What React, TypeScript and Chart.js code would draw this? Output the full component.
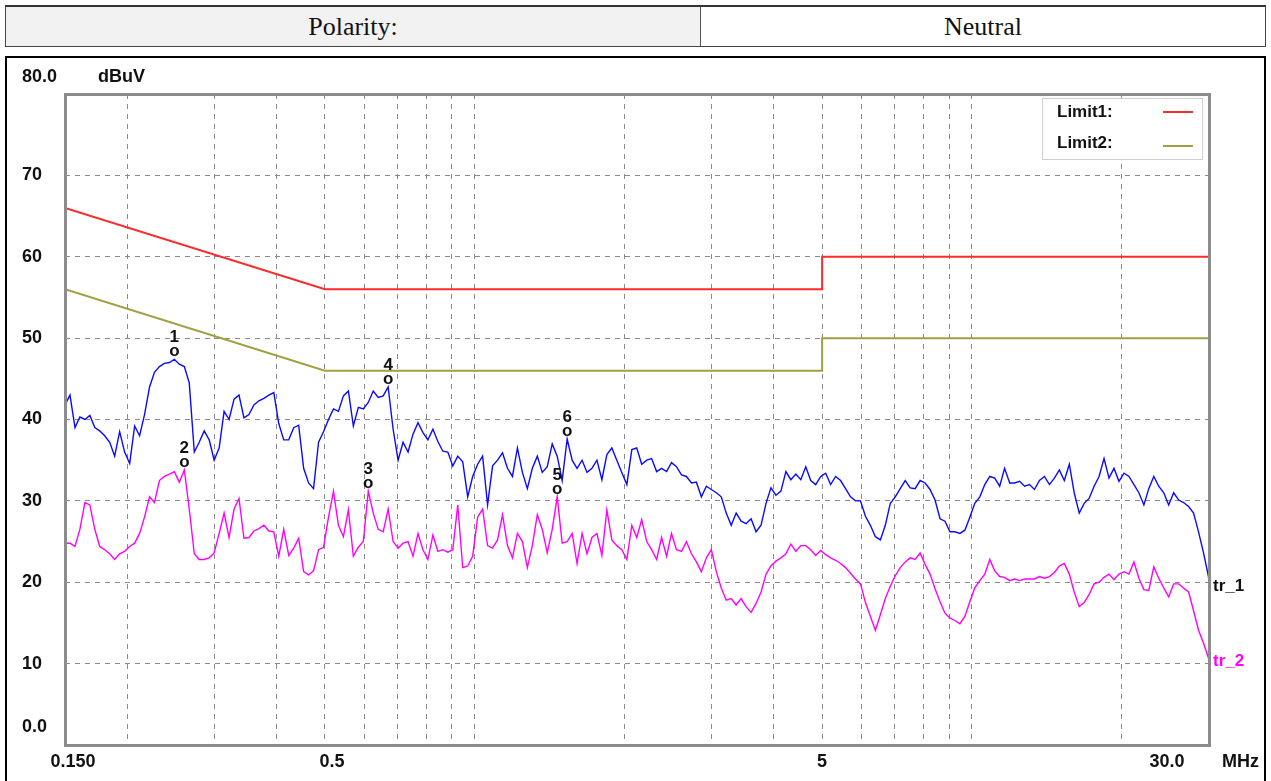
import React, { useEffect, useRef } from 'react';
import { Chart, registerables } from 'chart.js';

Chart.register(...registerables);

// Sweep frequencies (MHz), log spaced
const FREQ = [
  0.1500, 0.1535, 0.1571, 0.1607, 0.1645, 0.1683, 0.1722, 0.1762, 0.1803, 0.1845,
  0.1888, 0.1932, 0.1977, 0.2024, 0.2071, 0.2119, 0.2168, 0.2219, 0.2270, 0.2323,
  0.2377, 0.2433, 0.2489, 0.2547, 0.2607, 0.2667, 0.2730, 0.2793, 0.2858, 0.2925,
  0.2993, 0.3063, 0.3134, 0.3207, 0.3282, 0.3358, 0.3436, 0.3516, 0.3598, 0.3682,
  0.3768, 0.3856, 0.3945, 0.4037, 0.4131, 0.4228, 0.4326, 0.4427, 0.4530, 0.4635,
  0.4743, 0.4854, 0.4967, 0.5083, 0.5201, 0.5322, 0.5446, 0.5573, 0.5703, 0.5836,
  0.5972, 0.6111, 0.6253, 0.6399, 0.6548, 0.6700, 0.6856, 0.7016, 0.7179, 0.7347,
  0.7518, 0.7693, 0.7872, 0.8055, 0.8243, 0.8435, 0.8632, 0.8833, 0.9038, 0.9249,
  0.9464, 0.9685, 0.9910, 1.0141, 1.0377, 1.0619, 1.0867, 1.1120, 1.1379, 1.1644,
  1.1915, 1.2192, 1.2476, 1.2767, 1.3064, 1.3369, 1.3680, 1.3998, 1.4325, 1.4659,
  1.500, 1.535, 1.571, 1.607, 1.645, 1.683, 1.722, 1.762, 1.803, 1.845,
  1.888, 1.932, 1.977, 2.024, 2.071, 2.119, 2.168, 2.219, 2.270, 2.323,
  2.377, 2.433, 2.489, 2.547, 2.607, 2.667, 2.730, 2.793, 2.858, 2.925,
  2.993, 3.063, 3.134, 3.207, 3.282, 3.358, 3.436, 3.516, 3.598, 3.682,
  3.768, 3.856, 3.945, 4.037, 4.131, 4.228, 4.326, 4.427, 4.530, 4.635,
  4.743, 4.854, 4.967, 5.083, 5.201, 5.322, 5.446, 5.573, 5.703, 5.836,
  5.972, 6.111, 6.253, 6.399, 6.548, 6.700, 6.856, 7.016, 7.179, 7.347,
  7.518, 7.693, 7.872, 8.055, 8.243, 8.435, 8.632, 8.833, 9.038, 9.249,
  9.464, 9.685, 9.910, 10.14, 10.38, 10.62, 10.87, 11.12, 11.38, 11.64,
  11.92, 12.19, 12.48, 12.77, 13.06, 13.37, 13.68, 14.00, 14.33, 14.66,
  15.00, 15.35, 15.71, 16.07, 16.45, 16.83, 17.22, 17.62, 18.03, 18.45,
  18.88, 19.32, 19.77, 20.24, 20.71, 21.19, 21.68, 22.19, 22.70, 23.23,
  23.77, 24.33, 24.89, 25.47, 26.07, 26.67, 27.30, 27.93, 28.58, 29.25,
  29.93, 30.0,
];

// tr_1 (blue) level, dBuV
const TR1 = [
  41.8, 43, 39, 40.3, 40, 40.5, 39, 38.6, 38, 37.2,
  35.5, 38.5, 36, 34.6, 39.2, 38, 40.6, 44, 45.8, 46.5,
  46.9, 47, 47.4, 46.8, 46.5, 44.5, 36, 37.2, 38.6, 37.5,
  35, 36.5, 41, 40, 42.5, 43, 40.2, 40.6, 41.8, 42.3,
  42.6, 43, 43.3, 39.5, 37.5, 37.5, 39, 39.3, 34, 32.2,
  31.5, 37.2, 38.5, 40, 41.3, 41, 42.9, 43.5, 39.2, 41.5,
  41.3, 42.1, 43.5, 42.7, 42.9, 44, 38.8, 35, 37.2, 36,
  38.2, 39.6, 38.4, 37.5, 38.8, 37.3, 36.1, 36, 34.3, 35.5,
  34.8, 30.5, 33, 34.5, 35.5, 29.5, 34.3, 35, 35.9, 34,
  33, 36.5, 33.5, 31.5, 34, 35.5, 33.5, 34.2, 37, 35.5,
  32.5, 37.6, 35, 34, 35, 33.5, 34, 35, 32.6, 35.7,
  36.5, 35, 33.5, 32, 36.3, 36.5, 34.5, 35, 35.2, 33.6,
  34, 33.6, 34.7, 34.2, 33.2, 33, 32.2, 32.3, 30.5, 31.8,
  31.4, 31, 30.5, 28.5, 27, 28.5, 27.5, 27.2, 27.8, 26.2,
  27, 29.7, 31.6, 30.7, 31.2, 33.6, 32.6, 33.3, 32.6, 34.2,
  32.5, 32, 33, 33.4, 32, 33, 32.5, 31.5, 30.5, 30,
  30, 28.1, 27, 25.6, 25.2, 27, 29.7, 30.5, 31.5, 32.5,
  31.6, 31.5, 32.5, 32.2, 31.4, 30.1, 27.8, 27.5, 26.2, 26.2,
  26, 26.4, 28, 29.7, 30.5, 32, 33, 32.8, 31.8, 34,
  32.2, 32.2, 32.4, 31.8, 32, 31.4, 32.5, 33, 32, 32.8,
  33.8, 32.5, 34.5, 31, 28.5, 29.7, 30.3, 31.8, 33, 35.2,
  32.8, 34, 32.4, 33.4, 33, 32, 31, 29.5, 31.5, 33,
  31.8, 31, 29.5, 31, 30.1, 29.8, 29.3, 28.5, 26.2, 23.6,
  20.7, 19.5,
];

// tr_2 (magenta) level, dBuV
const TR2 = [
  24.8, 24.8, 24.4, 26.5, 29.8, 29.5, 26.5, 24.4, 24, 23.5,
  22.8, 23.5, 23.8, 24.4, 24.8, 26, 28, 30.5, 29.8, 32.5,
  33, 33.3, 33.6, 32.3, 33.8, 29, 23.5, 22.8, 22.8, 23,
  23.6, 26, 28.5, 25.5, 29, 30.3, 25.4, 25.5, 26.3, 26.6,
  27, 26.3, 26.2, 23.2, 26.5, 23.3, 24.2, 25.4, 21.3, 20.9,
  21.4, 24, 24.3, 28, 31.2, 27, 25.6, 28.9, 23.2, 24.3,
  25, 31.2, 28.5, 26.5, 26.2, 29, 25, 24.2, 24.8, 25,
  23.2, 26, 24, 22.8, 25.8, 23.8, 24, 23.7, 24, 29.5,
  21.8, 22, 23.2, 28, 29, 24.5, 24.2, 25.2, 28.3, 24.5,
  23, 26, 25, 21.8, 24.5, 28.3, 26.5, 23.6, 26.5, 30.5,
  24.8, 25, 26, 22.3, 26, 23.5, 25.5, 26, 23.3, 28.9,
  25.2, 24.5, 24, 22.8, 27, 25.5, 27.7, 25, 24, 22.8,
  25.5, 23.2, 26, 24, 23.8, 25, 23.5, 22.5, 21.3, 23,
  24, 21.3, 19.3, 17.8, 18, 17.2, 18, 17, 16.3, 17.4,
  18.8, 21, 22, 22.6, 23, 23.5, 24.7, 23.8, 24.5, 24.5,
  24, 23.3, 23.9, 23.4, 23, 22.7, 22.3, 21.8, 21.1, 20.4,
  19.8, 17.5, 15.8, 14.1, 16, 18, 19.5, 20.8, 21.8, 22.5,
  23, 22.8, 23.6, 22.2, 21, 19.2, 17.6, 16.2, 15.6, 15.3,
  14.9, 15.8, 17.6, 19.3, 20.2, 21, 22.8, 21.4, 20.7, 20.6,
  20.2, 20.4, 20.2, 20.4, 20.4, 20.4, 20.7, 20.5, 20.7, 21.2,
  22, 22.3, 21, 18.8, 17, 17.5, 18.5, 19.8, 20, 20.6,
  21, 20.3, 21, 21.3, 21, 22.5, 20.5, 19.1, 19, 21.9,
  20.5, 19.3, 18.2, 19.8, 19.8, 19.3, 18.8, 16.5, 14.1, 12.5,
  10.7, 10.3,
];

// Limit lines
const LIMIT_FREQ = [0.15, 0.5, 5, 5, 30];
const LIMIT1 = [66, 56, 56, 60, 60];
const LIMIT2 = [56, 46, 46, 50, 50];

// Peak markers
const MARKER_NO = ['1', '2', '3', '4', '5', '6'];
const MARKER_FREQ = [0.2489, 0.2607, 0.6111, 0.6700, 1.4659, 1.535];
const MARKER_LEVEL = [47.4, 33.8, 31.2, 44.0, 30.5, 37.6];

// Axis ticks / labels
const GRID_FREQ = [0.2, 0.3, 0.4, 0.5, 0.6, 0.7, 0.8, 0.9, 1, 2, 3, 4, 5, 6, 7, 8, 9, 10, 20];
const X_LABEL_VALUES = [0.15, 0.5, 5, 30];
const X_LABEL_TEXTS = ['0.150', '0.5', '5', '30.0'];
const Y_LABEL_VALUES = [80, 70, 60, 50, 40, 30, 20, 10, 0];
const Y_LABEL_TEXTS = ['80.0', '70', '60', '50', '40', '30', '20', '10', '0.0'];

const BLUE = '#0a0aff';
const MAGENTA = '#ff00ff';
const RED = '#ff2a2a';
const OLIVE = '#a0a040';
const FONT = '"Liberation Sans", Arial, sans-serif';

const pts = (xs: number[], ys: number[]) => xs.map((x, i) => ({ x, y: ys[i] }));

const decorPlugin = {
  id: 'decor',
  afterDraw(chart: any) {
    const { ctx, chartArea: a, scales } = chart;
    const xs = scales.x;
    const ys = scales.y;
    ctx.save();
    // plot frame
    ctx.strokeStyle = '#8c8c8c';
    ctx.lineWidth = 3;
    ctx.strokeRect(a.left + 0.5, a.top + 0.5, a.right - a.left, a.bottom - a.top);

    ctx.fillStyle = '#111';
    // y labels
    ctx.font = `bold 18px ${FONT}`;
    ctx.textAlign = 'left';
    ctx.textBaseline = 'middle';
    Y_LABEL_VALUES.forEach((v, i) => {
      let y = ys.getPixelForValue(v);
      if (v === ys.max) y -= 17;
      if (v === ys.min) y -= 18;
      ctx.fillText(Y_LABEL_TEXTS[i], 22, y);
    });
    ctx.fillText('dBuV', 98, ys.getPixelForValue(ys.max) - 17);

    // x labels
    ctx.textAlign = 'center';
    const xl = a.bottom + 17;
    X_LABEL_VALUES.forEach((v, i) => {
      let x = xs.getPixelForValue(v);
      if (i === 0) x += 8;
      else if (i === X_LABEL_VALUES.length - 1) x -= 42;
      else if (v < 1) x += 7;
      ctx.fillText(X_LABEL_TEXTS[i], x, xl);
    });
    ctx.textAlign = 'left';
    ctx.fillText('MHz', a.right + 13, xl);

    // legend box
    const lx = a.right - 167;
    const ly = a.top + 4;
    ctx.fillStyle = '#fff';
    ctx.fillRect(lx, ly, 160, 61);
    ctx.strokeStyle = '#cfcfcf';
    ctx.lineWidth = 1;
    ctx.strokeRect(lx + 0.5, ly + 0.5, 160, 61);
    ctx.font = `bold 17px ${FONT}`;
    ctx.fillStyle = '#111';
    ctx.textBaseline = 'middle';
    ctx.fillText('Limit1:', lx + 15, ly + 14);
    ctx.fillText('Limit2:', lx + 15, ly + 45);
    ctx.lineWidth = 2;
    ctx.strokeStyle = RED;
    ctx.beginPath();
    ctx.moveTo(lx + 121, ly + 14);
    ctx.lineTo(lx + 151, ly + 14);
    ctx.stroke();
    ctx.strokeStyle = OLIVE;
    ctx.beginPath();
    ctx.moveTo(lx + 121, ly + 48);
    ctx.lineTo(lx + 151, ly + 48);
    ctx.stroke();

    // trace end labels
    ctx.font = `bold 17px ${FONT}`;
    ctx.textAlign = 'left';
    ctx.fillStyle = '#111';
    ctx.fillText('tr_1', a.right + 4, ys.getPixelForValue(TR1[TR1.length - 1]));
    ctx.fillStyle = MAGENTA;
    ctx.fillText('tr_2', a.right + 4, ys.getPixelForValue(TR2[TR2.length - 1]));

    // markers
    ctx.fillStyle = '#111';
    ctx.textAlign = 'center';
    ctx.textBaseline = 'alphabetic';
    ctx.font = `bold 17px ${FONT}`;
    MARKER_NO.forEach((n, i) => {
      const px = xs.getPixelForValue(MARKER_FREQ[i]);
      const py = ys.getPixelForValue(MARKER_LEVEL[i]);
      ctx.fillText('o', px, py - 3);
      ctx.fillText(n, px, py - 17);
    });
    ctx.restore();
  },
};

export default function App() {
  const ref = useRef<HTMLCanvasElement>(null);
  useEffect(() => {
    const canvas = ref.current;
    if (!canvas) return;
    const chart = new Chart(canvas, {
      type: 'line',
      data: {
        datasets: [
          { label: 'Limit1', data: pts(LIMIT_FREQ, LIMIT1), borderColor: RED, borderWidth: 2, pointRadius: 0, tension: 0 },
          { label: 'Limit2', data: pts(LIMIT_FREQ, LIMIT2), borderColor: OLIVE, borderWidth: 2, pointRadius: 0, tension: 0 },
          { label: 'tr_1', data: pts(FREQ, TR1), borderColor: BLUE, borderWidth: 1.4, pointRadius: 0, tension: 0 },
          { label: 'tr_2', data: pts(FREQ, TR2), borderColor: MAGENTA, borderWidth: 1.4, pointRadius: 0, tension: 0 },
        ],
      },
      options: {
        animation: false,
        responsive: false,
        layout: { padding: { left: 65, top: 94, right: 62, bottom: 36 } },
        plugins: { legend: { display: false }, tooltip: { enabled: false } },
        scales: {
          x: {
            type: 'logarithmic',
            min: 0.15,
            max: 30,
            afterBuildTicks: (s: any) => {
              s.ticks = GRID_FREQ.map((v) => ({ value: v }));
            },
            ticks: { display: false },
            grid: { color: '#8a8a8a', lineWidth: 1, drawTicks: false, tickLength: 0 },
            border: { display: false, dash: [5, 5] },
          },
          y: {
            min: 0,
            max: 80,
            ticks: { display: false, stepSize: 10 },
            grid: { color: '#8a8a8a', lineWidth: 1, drawTicks: false, tickLength: 0 },
            border: { display: false, dash: [5, 5] },
          },
        },
      } as any,
      plugins: [decorPlugin],
    });
    return () => chart.destroy();
  }, []);

  const serif = '"Liberation Serif", "Times New Roman", serif';
  return (
    <div style={{ position: 'absolute', left: 0, top: 0, width: 1271, height: 781, overflow: 'hidden', background: '#fff' }}>
      <div
        style={{
          position: 'absolute', left: 5, top: 5, width: 1261, height: 42, boxSizing: 'border-box',
          borderTop: '2px solid #333', borderLeft: '1px solid #444', borderRight: '1px solid #444', borderBottom: '1px solid #444',
          display: 'flex', fontFamily: serif, fontSize: 26, color: '#111',
        }}
      >
        <div style={{ width: 694, background: '#f2f2f2', borderRight: '1px solid #555', display: 'flex', alignItems: 'center', justifyContent: 'center' }}>
          Polarity:
        </div>
        <div style={{ flex: 1, display: 'flex', alignItems: 'center', justifyContent: 'center' }}>Neutral</div>
      </div>
      <div
        style={{
          position: 'absolute', left: 5, top: 56, width: 1261, height: 760, boxSizing: 'border-box',
          border: '2px solid #000',
        }}
      />
      <canvas ref={ref} width={1271} height={781} style={{ position: 'absolute', left: 0, top: 0, width: 1271, height: 781 }} />
    </div>
  );
}
